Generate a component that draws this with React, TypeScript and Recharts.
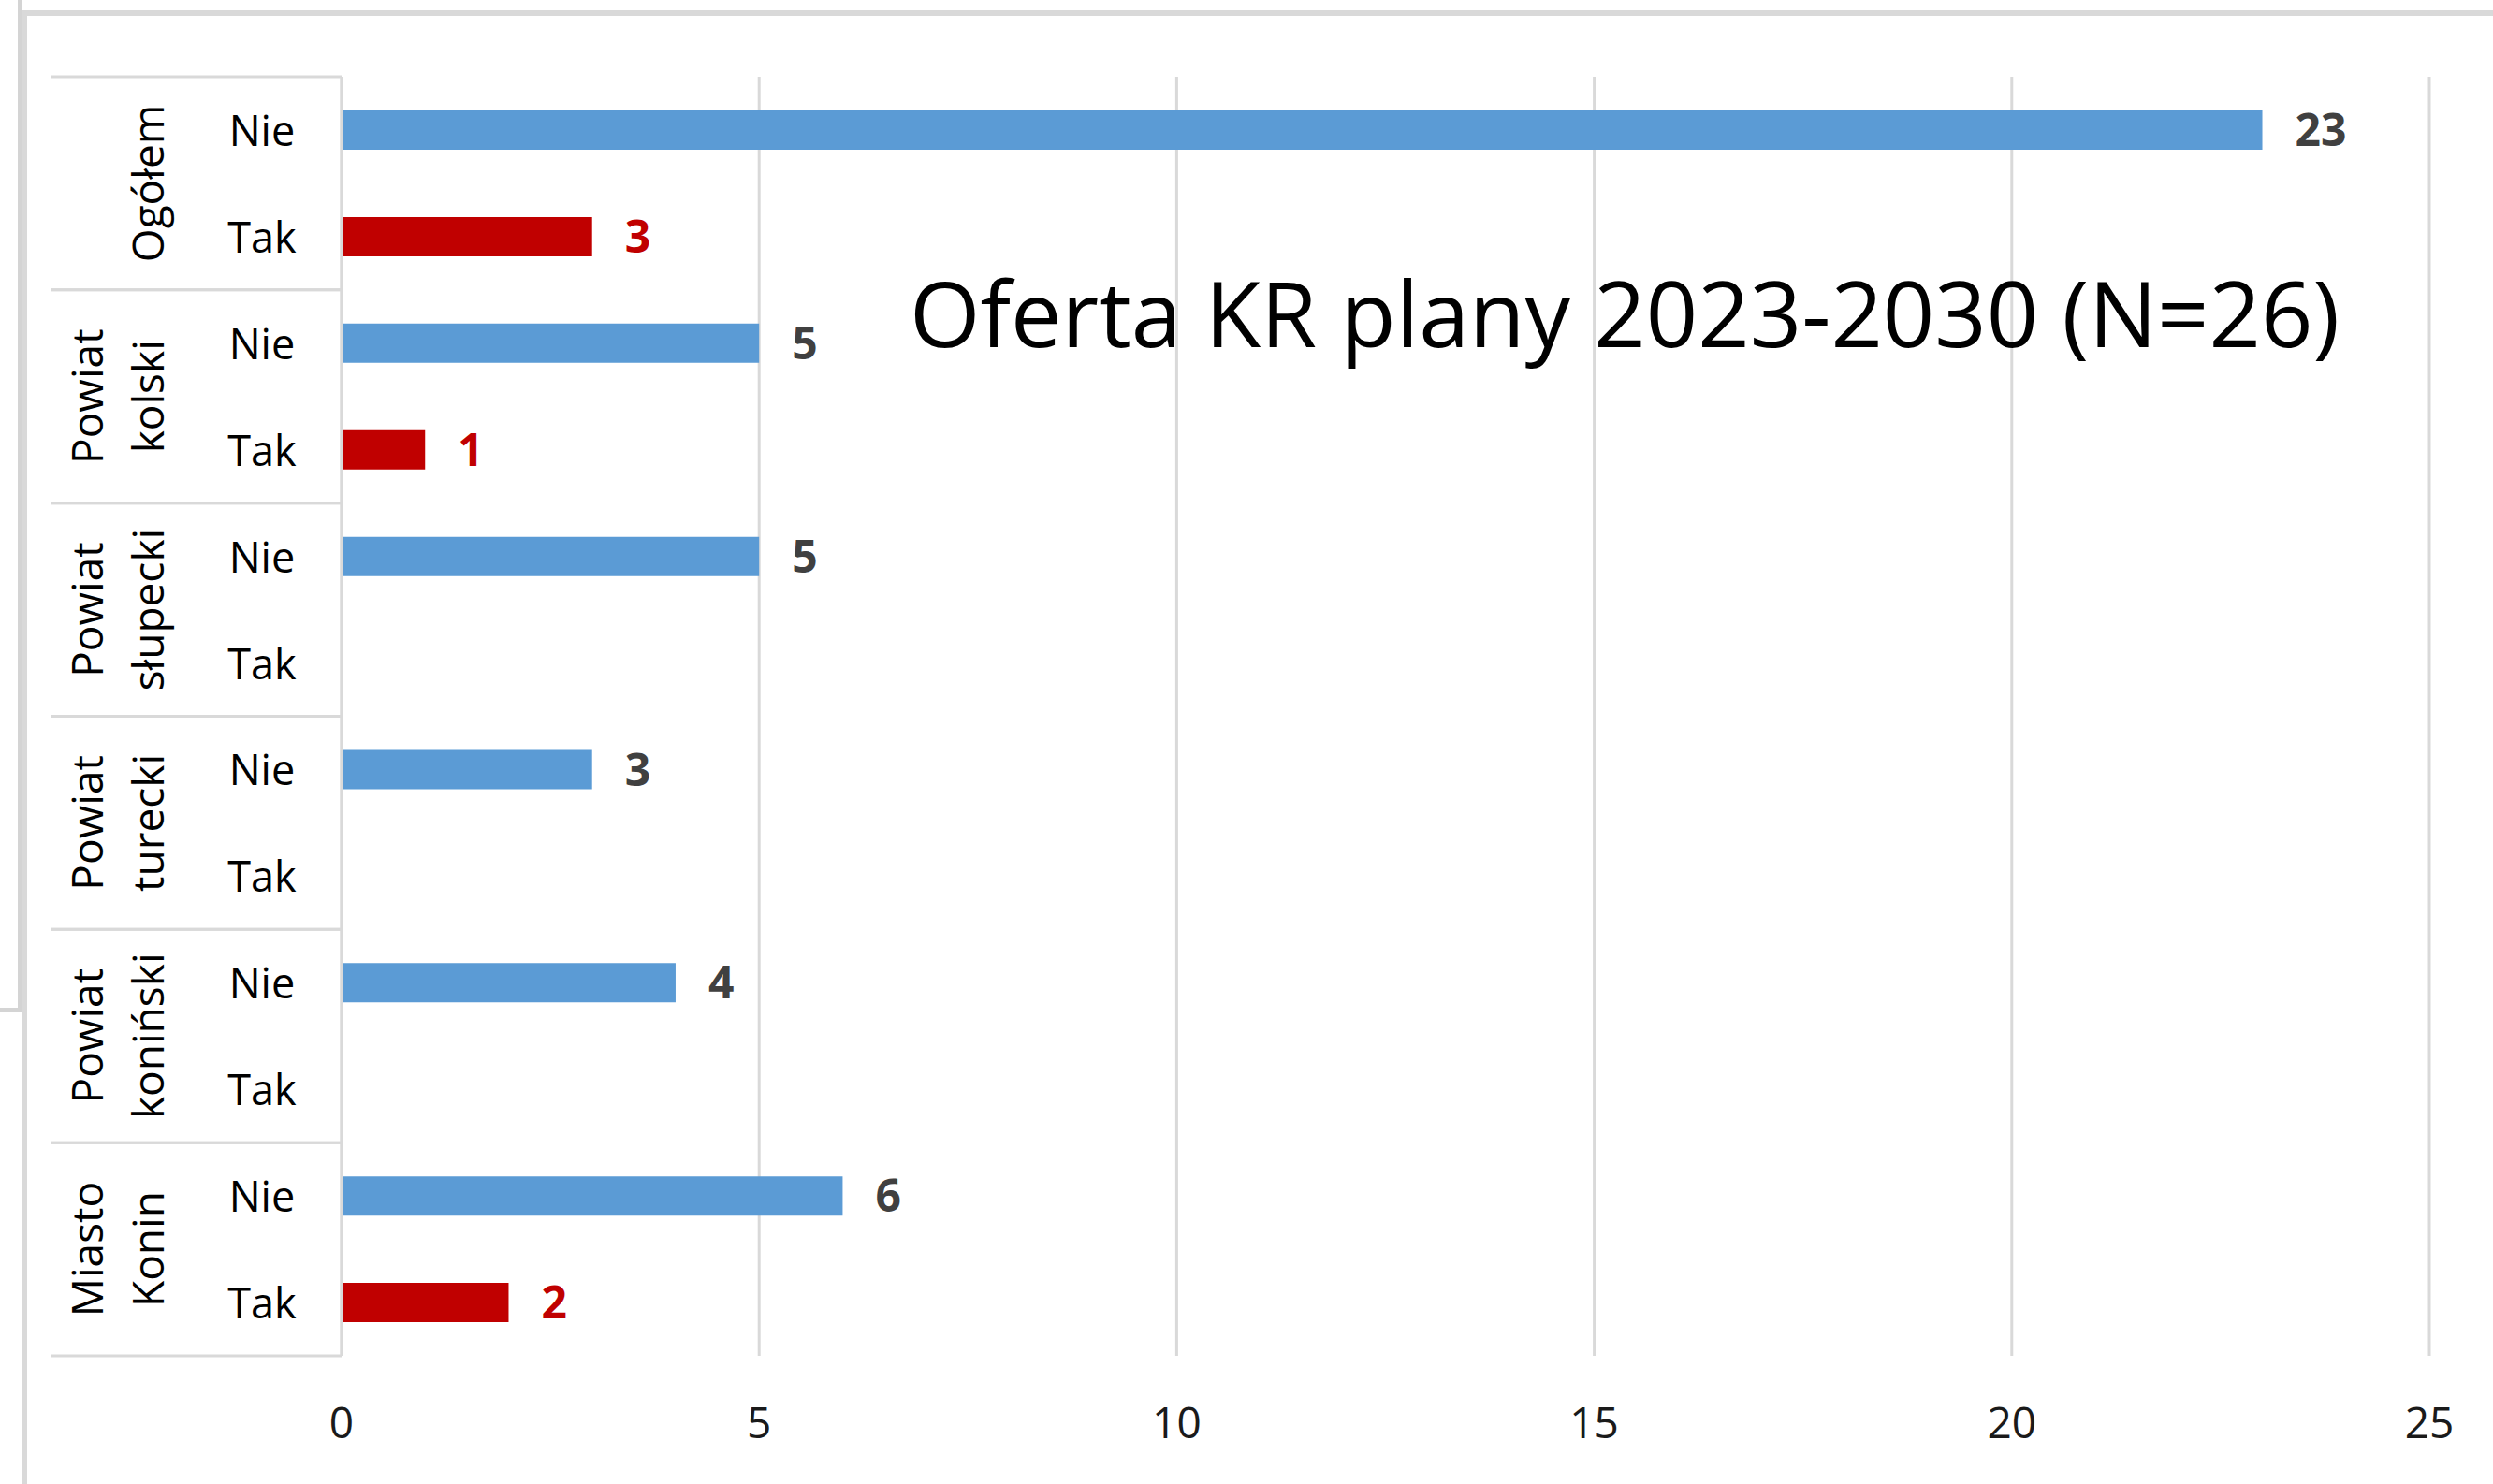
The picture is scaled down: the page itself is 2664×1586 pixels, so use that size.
import React from "react";
import {
  BarChart,
  Bar,
  XAxis,
  YAxis,
  CartesianGrid,
  LabelList,
} from "recharts";

// groups on the left, answers inside each group
const groups = [
  "Ogółem",
  "Powiat kolski",
  "Powiat słupecki",
  "Powiat turecki",
  "Powiat koniński",
  "Miasto Konin",
];
const answers = ["Nie", "Tak"];
const nieCounts = [23, 5, 5, 3, 4, 6];
const takCounts: Array<number | null> = [3, 1, null, null, null, 2];
const xTicks = [0, 5, 10, 15, 20, 25];
const title = "Oferta KR plany 2023-2030 (N=26)";

const W = 2664;
const H = 1586;
const MARGIN = { top: 82, right: 68, bottom: 0, left: 54 };
const X_AXIS_H = 137;
const GROUP_AXIS_W = 166;
const ROW_AXIS_W = 145;
const PLOT_H = H - MARGIN.top - MARGIN.bottom - X_AXIS_H;
const FONT = "'Open Sans', 'Noto Sans', sans-serif";
const GRID = "#d9d9d9";

// axis ids: recharts stacks left axes by id, first one next to the plot
const ROW_AXIS = "a_row";
const GROUP_AXIS = "b_group";

const rows = groups.flatMap((g, i) =>
  answers.map((a) => ({
    key: `${g}|${a}`,
    group: g,
    answer: a,
    nie: a === "Nie" ? nieCounts[i] : null,
    tak: a === "Tak" ? takCounts[i] : null,
  }))
);

function AnswerTick(props: any) {
  const { x, y, payload } = props;
  const label = String(payload.value).split("|")[1];
  return (
    <text
      x={x - 85}
      y={y + 17}
      textAnchor="middle"
      fontFamily={FONT}
      fontSize={45}
      fill="#000"
    >
      {label}
    </text>
  );
}

function GroupTick(props: any) {
  const { x, y, payload } = props;
  const band = PLOT_H / groups.length;
  const words = String(payload.value).split(" ");
  const lines = words.length === 1 ? [null, words[0]] : words;
  const top = y - band / 2;
  const bottom = y + band / 2;
  return (
    <g>
      <line x1={x - GROUP_AXIS_W} x2={x + ROW_AXIS_W} y1={top} y2={top} stroke={GRID} strokeWidth={3} />
      <line x1={x - GROUP_AXIS_W} x2={x + ROW_AXIS_W} y1={bottom} y2={bottom} stroke={GRID} strokeWidth={3} />
      {lines.map((ln, i) => {
        const bx = i === 0 ? x - 110 : x - 45;
        return ln ? (
          <text
            key={i}
            x={bx}
            y={y}
            transform={`rotate(-90 ${bx} ${y})`}
            textAnchor="middle"
            fontFamily={FONT}
            fontSize={46}
            fill="#000"
          >
            {ln}
          </text>
        ) : null;
      })}
    </g>
  );
}

function XTick(props: any) {
  const { x, y, payload } = props;
  return (
    <text x={x} y={y + 88} textAnchor="middle" fontFamily={FONT} fontSize={46} fill="#1a1a1a">
      {payload.value}
    </text>
  );
}

export default function App() {
  return (
    <div style={{ position: "absolute", left: 0, top: 0, width: W, height: H, background: "#fff" }}>
      <BarChart width={W} height={H} data={rows} layout="vertical" margin={MARGIN}>
        <CartesianGrid yAxisId={ROW_AXIS} horizontal={false} stroke={GRID} strokeWidth={3} />
        <XAxis
          type="number"
          domain={[0, 25]}
          ticks={xTicks}
          interval={0}
          axisLine={false}
          tickLine={false}
          tickSize={0}
          tickMargin={0}
          height={X_AXIS_H}
          tick={<XTick />}
        />
        <YAxis
          yAxisId={ROW_AXIS}
          type="category"
          dataKey="key"
          width={ROW_AXIS_W}
          interval={0}
          tickLine={false}
          tickSize={0}
          tickMargin={0}
          axisLine={{ stroke: GRID, strokeWidth: 3 }}
          tick={<AnswerTick />}
        />
        <YAxis
          yAxisId={GROUP_AXIS}
          type="category"
          dataKey="group"
          allowDuplicatedCategory={false}
          width={GROUP_AXIS_W}
          interval={0}
          tickLine={false}
          tickSize={0}
          tickMargin={0}
          axisLine={false}
          tick={<GroupTick />}
        />
        <Bar yAxisId={ROW_AXIS} dataKey="nie" name="Nie" stackId="s" fill="#5b9bd5" barSize={42} isAnimationActive={false}>
          <LabelList
            dataKey="nie"
            position="right"
            offset={35}
            fill="#404040"
            fontFamily={FONT}
            fontSize={48}
            fontWeight="bold"
          />
        </Bar>
        <Bar yAxisId={ROW_AXIS} dataKey="tak" name="Tak" stackId="s" fill="#c00000" barSize={42} isAnimationActive={false}>
          <LabelList
            dataKey="tak"
            position="right"
            offset={35}
            fill="#c00000"
            fontFamily={FONT}
            fontSize={48}
            fontWeight="bold"
          />
        </Bar>
      </BarChart>
      <svg
        width={W}
        height={H}
        style={{ position: "absolute", left: 0, top: 0, pointerEvents: "none" }}
      >
        {/* window frame edges */}
        <rect x={19} y={0} width={5} height={1080} fill="#d4d4d4" />
        <rect x={0} y={1077} width={24} height={5} fill="#d4d4d4" />
        <rect x={24} y={11} width={5} height={H - 11} fill={GRID} />
        <rect x={24} y={11} width={W - 24} height={6} fill={GRID} />
        <text x={972} y={371} fontFamily={FONT} fontSize={97} fill="#000">
          {title}
        </text>
      </svg>
    </div>
  );
}
